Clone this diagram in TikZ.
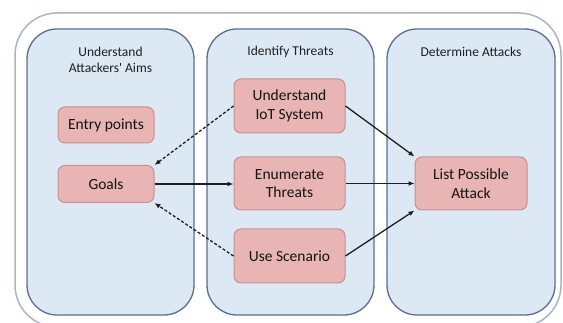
\documentclass[tikz,border=0pt]{standalone}
\usepackage{fontspec}
\setmainfont{Carlito}
\usetikzlibrary{arrows.meta}
\definecolor{panelfill}{HTML}{DCE8F4}
\definecolor{panelline}{HTML}{5A6E95}
\definecolor{boxfill}{HTML}{E8B4B4}
\definecolor{boxline}{HTML}{CC8E8E}
\definecolor{outerline}{HTML}{A9B4C4}
\definecolor{arrowcol}{HTML}{1E1E1E}
\tikzset{
  panel/.style={draw=panelline, fill=panelfill, line width=1.3pt, rounded corners=30pt},
  stepbox/.style={draw=boxline, fill=boxfill, line width=1pt, rounded corners=7pt,
    inner sep=0pt, align=center, font=\fontsize{15.5}{18.5}\selectfont, text=black!92},
  header/.style={align=center, font=\fontsize{13.5}{16.5}\selectfont, text=black!88},
  flow/.style={draw=arrowcol, line width=1.3pt, -{Latex[length=6pt,width=5pt]}},
  back/.style={flow, dash pattern=on 3pt off 2pt}
}
\begin{document}
\begin{tikzpicture}[x=1pt,y=-1pt]
\useasboundingbox (0,0) rectangle (563,323);
\begin{scope}
\clip (0,0) rectangle (563,323);
\draw[outerline, line width=1.5pt, fill=white, rounded corners=42pt] (15,13) rectangle (561,327);
\end{scope}
\draw[panel] (27,29) rectangle (194,315);
\draw[panel] (207,29) rectangle (374,315);
\draw[panel] (387,29) rectangle (555,315);
\node[header] (h1) at (110.5,60) {Understand\\Attackers\textquotesingle\ Aims};
\node[header] (h2) at (290.5,52) {Identify Threats};
\node[header] (h3) at (471,52) {Determine Attacks};
\node[stepbox, minimum width=96pt, minimum height=36pt] (entry) at (106,125) {Entry points};
\node[stepbox, minimum width=96pt, minimum height=37pt] (goals) at (106,184) {Goals};
\node[stepbox, minimum width=111pt, minimum height=54pt] (iot) at (289.5,106) {Understand\\IoT System};
\node[stepbox, minimum width=111pt, minimum height=53pt] (enum) at (289.5,183.5) {Enumerate\\Threats};
\node[stepbox, minimum width=111pt, minimum height=54pt] (scen) at (289.5,256) {Use Scenario};
\node[stepbox, minimum width=112pt, minimum height=53pt] (list) at (471,183.5) {List Possible\\Attack};
\draw[back] (iot.west) -- (goals.north east);
\draw[back] (scen.west) -- (goals.south east);
\draw[flow] (goals.east) -- (enum.west |- goals.east);
\draw[flow] (iot.east) -- (list.north west);
\draw[flow] (enum.east) -- (list.west);
\draw[flow] (scen.east) -- (list.south west);
\end{tikzpicture}
\end{document}
